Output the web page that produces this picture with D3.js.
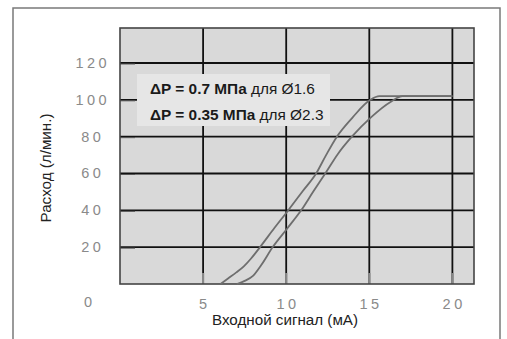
<!DOCTYPE html>
<html><head><meta charset="utf-8">
<script src="https://cdn.jsdelivr.net/npm/d3@7"></script>
<style>
body{margin:0;background:#fff;}
svg{display:block;font-family:"Liberation Sans",Arial,sans-serif;}
</style></head>
<body><svg id="c" width="507" height="339"></svg>
<script>
// Data
const xTicks = [5, 10, 15, 20];
const yTicks = [20, 40, 60, 80, 100, 120];
const seriesNames = ["Ø1.6", "Ø2.3"];
const series1 = [[6.05,0],[6.5,3],[7.0,6.3],[7.45,9.6],[7.9,14],[8.45,20.3],[9.3,30.5],[10.14,40.2],[11.0,50.5],[11.8,60],[12.4,70],[13.05,80],[14.0,90.5],[15.06,100],[15.6,102],[20,102]];
const series2 = [[7.03,0],[7.5,1.7],[8.0,4.4],[8.5,10.3],[9.2,20.2],[10.05,30],[10.9,40],[11.65,50.5],[12.35,60],[13.1,70.5],[13.95,80],[15.1,90.5],[16.3,99],[17.0,102],[20,102]];
const legendLines = [
  {bold: "ΔP = 0.7 МПа", rest: " для Ø1.6"},
  {bold: "ΔP = 0.35 МПа", rest: " для Ø2.3"}
];
const xTitle = "Входной сигнал (мА)";
const yTitle = "Расход (л/мин.)";

const svg = d3.select("#c");
const x = d3.scaleLinear().domain([0, 21.3]).range([120, 474]);
const y = d3.scaleLinear().domain([0, 139]).range([284, 28]);

// outer frame
svg.append("path").attr("d","M13,339 V8 H500 V339")
  .attr("fill","none").attr("stroke","#7a7a7a").attr("stroke-width",1.5);

// plot background
svg.append("rect").attr("x",x(0)).attr("y",y(139)).attr("width",x(21.3)-x(0)).attr("height",y(0)-y(139))
  .attr("fill","#d9d9d9");

// grid
const g = svg.append("g");
g.selectAll("line.v").data(xTicks).join("line")
  .attr("x1",d=>x(d)).attr("x2",d=>x(d)).attr("y1",y(139)).attr("y2",y(0))
  .attr("stroke","#111").attr("stroke-width",1.8);
g.selectAll("line.h").data(yTicks).join("line")
  .attr("x1",x(0)).attr("x2",x(21.3)).attr("y1",d=>y(d)).attr("y2",d=>y(d))
  .attr("stroke","#111").attr("stroke-width",1.8);

// small inner ticks
g.selectAll("line.yt").data(yTicks).join("line")
  .attr("x1",x(0)).attr("x2",x(0)+15).attr("y1",d=>y(d)+1).attr("y2",d=>y(d)+1)
  .attr("stroke","#555").attr("stroke-width",1);
g.selectAll("line.xt").data(xTicks).join("line")
  .attr("x1",d=>x(d)).attr("x2",d=>x(d)).attr("y1",y(0)).attr("y2",y(0)-11)
  .attr("stroke","#888").attr("stroke-width",2.2);

// plot border
svg.append("rect").attr("x",x(0)).attr("y",y(139)).attr("width",x(21.3)-x(0)).attr("height",y(0)-y(139))
  .attr("fill","none").attr("stroke","#444").attr("stroke-width",1.6);

// legend box
const lg = svg.append("g");
lg.append("rect").attr("x",137).attr("y",74).attr("width",193).attr("height",52).attr("fill","#e6e6e6");
legendLines.forEach((l,i)=>{
  const t = lg.append("text").attr("x",150).attr("y",94+i*26)
    .attr("font-size",15.4).attr("fill","#1a1a1a");
  t.append("tspan").attr("font-weight","bold").text(l.bold);
  t.append("tspan").text(l.rest);
});

// curves
const line = d3.line().x(d=>x(d[0])).y(d=>y(d[1])).curve(d3.curveMonotoneX);
[series1, series2].forEach(s=>{
  svg.append("path").datum(s).attr("d",line).attr("fill","none")
    .attr("stroke","#6e6e6e").attr("stroke-width",1.8);
});

// tick labels
const ls = 3.5;
svg.selectAll("text.xl").data(xTicks).join("text")
  .attr("x",d=>x(d)+ls/2).attr("y",309).attr("text-anchor","middle")
  .attr("font-size",14.5).attr("letter-spacing",ls).attr("fill","#8a8a8a").text(d=>d);
svg.selectAll("text.yl").data(yTicks).join("text")
  .attr("x",91+ls/2).attr("y",d=>y(d)+5).attr("text-anchor","middle")
  .attr("font-size",14.5).attr("letter-spacing",ls).attr("fill","#8a8a8a").text(d=>d);
svg.append("text").attr("x",88).attr("y",307).attr("text-anchor","middle")
  .attr("font-size",14.5).attr("fill","#8a8a8a").text(0);

// axis titles
svg.append("text").attr("x",285).attr("y",325).attr("text-anchor","middle")
  .attr("font-size",15.2).attr("fill","#222").text(xTitle);
svg.append("text").attr("transform","translate(51,168) rotate(-90)").attr("text-anchor","middle")
  .attr("font-size",15.2).attr("fill","#222").text(yTitle);
</script>
</body></html>
